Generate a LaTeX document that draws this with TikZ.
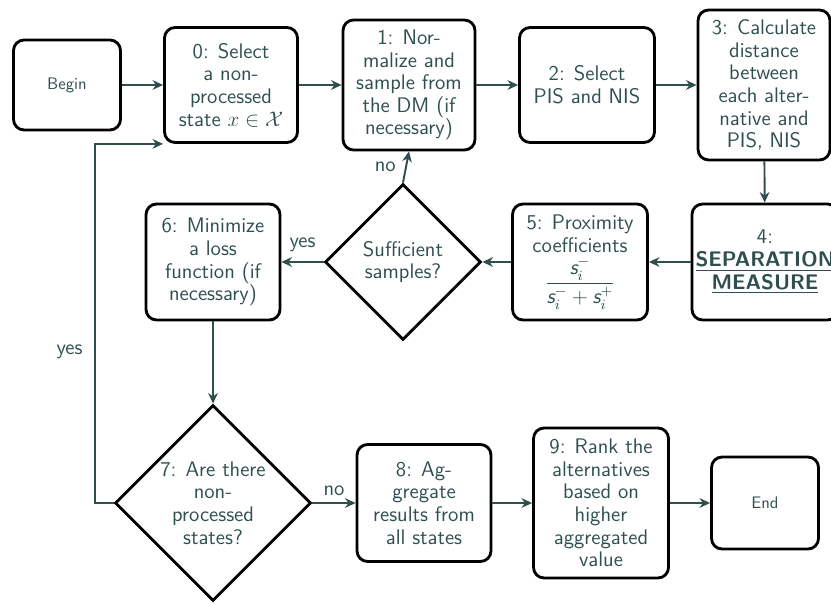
\documentclass[tikz,border=0pt]{standalone}
\usepackage{fontspec}
\usepackage{amsmath}
\usepackage{tikz}
\usetikzlibrary{positioning,arrows.meta,shapes.geometric}

\definecolor{slate}{HTML}{2F4F4F}
\newcommand{\sitl}{\mbox{\sffamily\itshape s}}

\begin{document}
\begin{tikzpicture}[x=0.02cm,y=-0.02cm,
  stepbox/.style={rectangle,draw=black,line width=1.6pt,rounded corners=6pt,align=center,text=slate,inner sep=2pt,font=\sffamily\fontsize{12}{12.9}\selectfont,minimum width=2.66cm,minimum height=2.3cm},
  termbox/.style={stepbox,font=\sffamily\fontsize{9.5}{11}\selectfont,minimum width=2.14cm,minimum height=1.8cm},
  decision/.style={diamond,aspect=1,draw=black,line width=1.6pt,align=center,text=slate,inner sep=0pt,font=\sffamily\fontsize{12}{12.9}\selectfont},
  flow/.style={-{Stealth[length=6pt,width=5.5pt]},line width=1.1pt,draw=slate},
  lbl/.style={text=slate,font=\sffamily\fontsize{12}{13}\selectfont},
]
\useasboundingbox (0,0) rectangle (831,604);

% ==== TOP ROW ====
\node[termbox] (begin) at (67,85) {Begin};
\node[stepbox] (s0) at (231,85) {0: Select\\a non-\\processed\\state $x\in\mathcal{X}$};
\node[stepbox,minimum width=2.64cm,minimum height=2.6cm] (s1) at (409,85) {1: Nor-\\malize and\\sample from\\the DM (if\\necessary)};
\node[stepbox,minimum width=2.7cm] (s2) at (587,85) {2: Select\\PIS and NIS};
\node[stepbox,minimum width=2.64cm,minimum height=3cm] (s3) at (764,85) {3: Calculate\\distance\\between\\each alter-\\native and\\PIS, NIS};

% ==== MIDDLE ROW ====
\node[stepbox,minimum width=2.92cm,minimum height=2.32cm] (s4) at (765,262) {4:\\\underline{\textbf{SEPARATION}}\\\underline{\textbf{MEASURE}}};
\node[stepbox,minimum width=2.7cm,minimum height=2.32cm] (s5) at (580,262) {5: Proximity\\coefficients\\[2pt]$\dfrac{\sitl_i^-}{\sitl_i^-+\sitl_i^+}$};
\node[decision,minimum size=3.12cm] (q1) at (403,262) {Sufficient\\samples?};
\node[stepbox,minimum width=2.68cm,minimum height=2.32cm] (s6) at (213,262) {6: Minimize\\a loss\\function (if\\necessary)};

% ==== BOTTOM ROW ====
\node[decision,minimum size=3.92cm,inner sep=-8pt] (q7) at (213,503) {7: Are there\\non-\\processed\\states?};
\node[stepbox,minimum width=2.68cm,minimum height=2.34cm] (s8) at (424,503) {8: Ag-\\gregate\\results from\\all states};
\node[stepbox,minimum width=2.7cm,minimum height=3cm] (s9) at (601,503) {9: Rank the\\alternatives\\based on\\higher\\aggregated\\value};
\node[termbox,minimum height=1.84cm] (end) at (765,503) {End};

% Flow arrows
\draw[flow] (begin) -- (s0);
\draw[flow] (s0) -- (s1);
\draw[flow] (s1) -- (s2);
\draw[flow] (s2) -- (s3);
\draw[flow] (s3) -- (s4);
\draw[flow] (s4) -- (s5);
\draw[flow] (s5) -- (q1);
\draw[flow] (q1) -- node[lbl,above=2pt] {yes} (s6);
\draw[flow] (q1.north) -- node[lbl,left=2pt] {no} (s1.south);
\draw[flow] (s6) -- (q7);
\draw[flow] (q7) -- node[lbl,above] {no} (s8);
\draw[flow] (s8) -- (s9);
\draw[flow] (s9) -- (end);

% Loop back to step 0
\draw[flow] (q7.west) -- ++(-19,0) |- node[lbl,pos=0.21,left=3pt] {yes} (s0.south west);

\end{tikzpicture}
\end{document}
